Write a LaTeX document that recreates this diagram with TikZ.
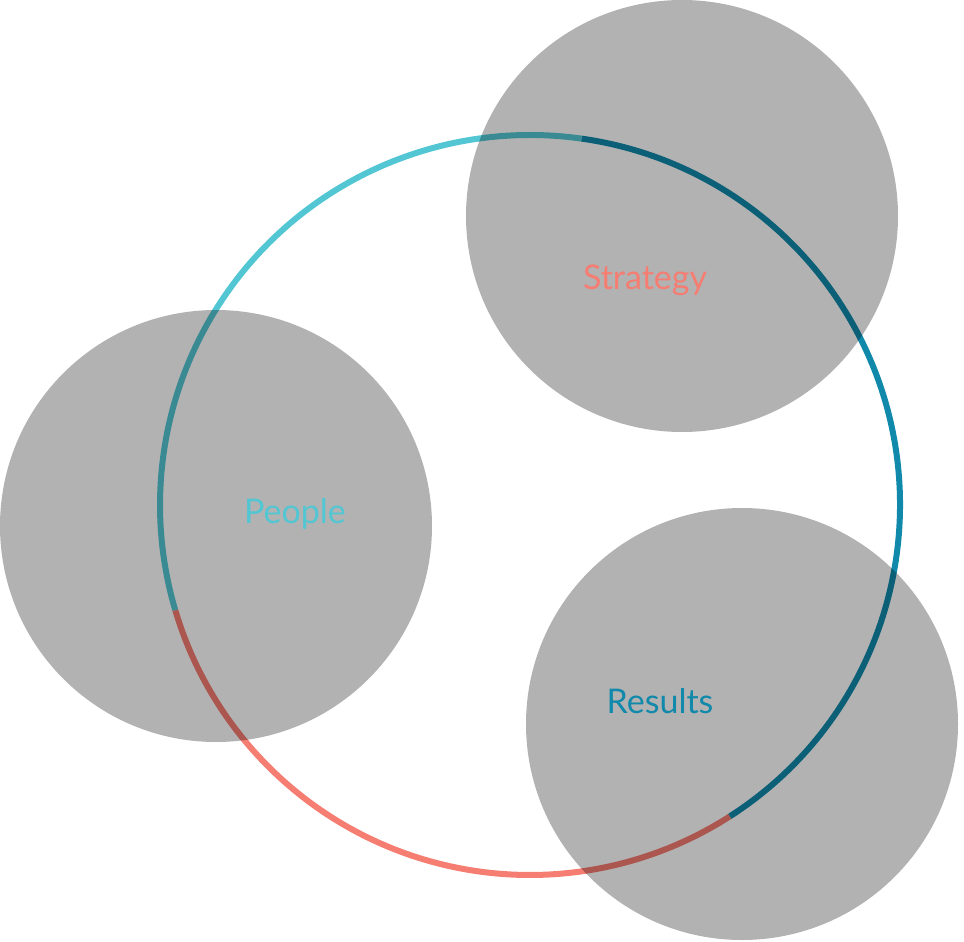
\documentclass[tikz,border=0pt]{standalone}
\usepackage{fontspec}
\setmainfont{Lato}
\definecolor{salmon}{HTML}{F57D72}
\definecolor{teal}{HTML}{1089AB}
\definecolor{cyan}{HTML}{52C6D3}
\tikzset{
  arc/.style={line width=6pt},
  blob/.style={circle, fill=black, fill opacity=0.3, minimum size=432pt, inner sep=0pt},
  word/.style={font=\fontsize{34}{40}\selectfont}
}
\begin{document}
\begin{tikzpicture}[x=1pt, y=-1pt]

% Frame
\useasboundingbox (0,0) rectangle (964,942);

% Ring
\coordinate (c) at (530,505);
\draw[arc, salmon] ([shift={(163.5:370)}]c) arc[start angle=163.5, end angle=57.3, radius=370];
\draw[arc, teal] ([shift={(57.3:370)}]c) arc[start angle=57.3, end angle=-82, radius=370];
\draw[arc, cyan] ([shift={(-82:370)}]c) arc[start angle=-82, end angle=-196.5, radius=370];

% Circles
\node[blob] (strategy) at (682,216) {};
\node[blob] (people) at (216,526) {};
\node[blob] (results) at (742,724) {};

% Labels
\node[word, text=salmon] at (645,280) {Strategy};
\node[word, text=cyan] at (295,514) {People};
\node[word, text=teal] at (660,701) {Results};

\end{tikzpicture}
\end{document}
